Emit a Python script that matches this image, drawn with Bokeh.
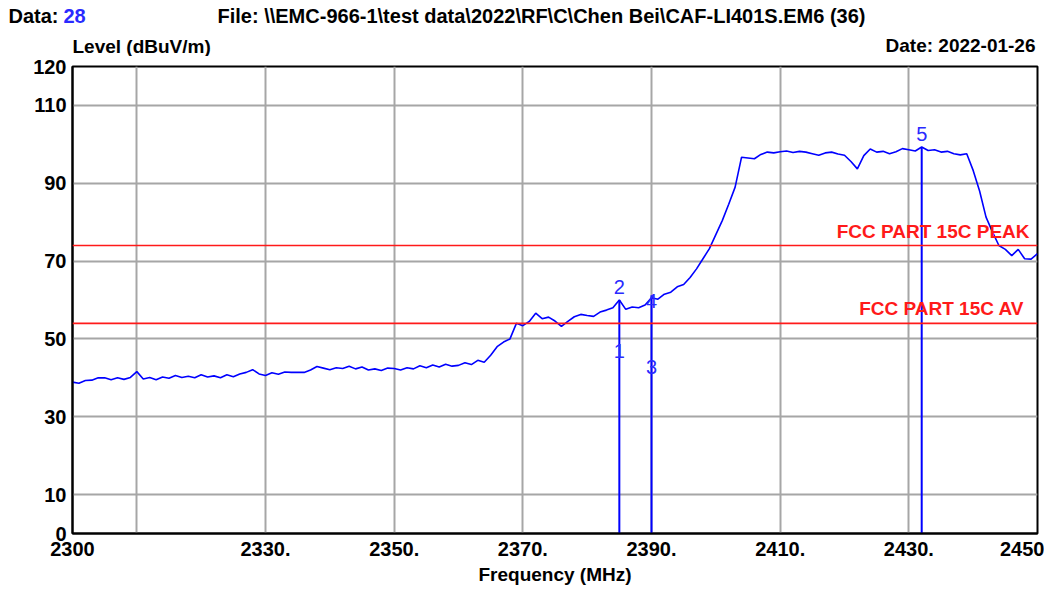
from bokeh.plotting import figure
from bokeh.layouts import column, row
from bokeh.models import FixedTicker, Span, Label, ColumnDataSource, Range1d
from bokeh.embed import file_html
from bokeh.resources import INLINE
from bokeh.core.properties import value

# ---------------- data ----------------
freq_mhz = list(range(2300, 2451))
level_dbuv = [
    38.9, 38.6, 39.3, 39.4, 40.0, 40.0, 39.5, 40.0, 39.6, 40.1,   # 2300-2309
    41.6, 39.7, 40.1, 39.5, 40.2, 39.9, 40.6, 40.1, 40.4, 40.0,   # 2310-2319
    40.8, 40.2, 40.5, 40.0, 40.8, 40.3, 41.0, 41.4, 42.1, 41.0,   # 2320-2329
    40.6, 41.3, 40.9, 41.5, 41.4, 41.4, 41.4, 42.0, 42.9, 42.5,   # 2330-2339
    42.1, 42.6, 42.4, 43.0, 42.3, 42.8, 42.0, 42.3, 41.9, 42.5,   # 2340-2349
    42.4, 42.0, 42.6, 42.3, 43.1, 42.6, 43.3, 42.8, 43.5, 43.0,   # 2350-2359
    43.2, 43.9, 43.4, 44.5, 44.0, 45.8, 48.0, 49.2, 50.0, 54.0,   # 2360-2369
    53.4, 54.5, 56.6, 55.2, 55.6, 54.6, 53.2, 54.5, 55.7, 56.3,   # 2370-2379
    56.0, 55.8, 56.9, 57.4, 58.0, 60.0, 57.6, 58.2, 58.0, 58.7,   # 2380-2389
    60.6, 60.2, 61.5, 62.0, 63.4, 64.0, 65.8, 68.0, 70.6, 73.2,   # 2390-2399
    76.8, 80.4, 84.6, 89.0, 96.7, 96.5, 96.3, 97.4, 98.0, 97.8,   # 2400-2409
    98.1, 98.3, 97.9, 98.2, 98.0, 97.6, 97.2, 97.8, 98.0, 97.5,   # 2410-2419
    97.2, 95.6, 93.7, 97.1, 98.8, 98.0, 98.2, 97.6, 98.1, 98.9,   # 2420-2429
    98.6, 98.3, 99.3, 98.4, 98.6, 98.0, 98.2, 97.6, 97.3, 97.6,   # 2430-2439
    93.3, 88.0, 81.3, 77.5, 74.0, 73.0, 71.4, 73.0, 70.6, 70.5,   # 2440-2449
    71.9,                                                         # 2450
]

limit_levels = [74, 54]
limit_names = ["FCC PART 15C PEAK", "FCC PART 15C  AV"]

marker_ids = ["1", "2", "3", "4", "5"]
marker_freq = [2385.0, 2385.0, 2390.0, 2390.0, 2432.0]
marker_label_level = [47.0, 63.3, 42.7, 59.7, 102.7]

marker_line_freq = [2385.0, 2390.0, 2432.0]
marker_line_top = [60.0, 61.2, 99.3]

x_ticks = [2300, 2330, 2350, 2370, 2390, 2410, 2430, 2450]
x_tick_labels = ["2300", "2330.", "2350.", "2370.", "2390.", "2410.", "2430.", "2450"]
x_grid = [2310, 2330, 2350, 2370, 2390, 2410, 2430]
y_ticks = [0, 10, 30, 50, 70, 90, 110, 120]
y_grid = [10, 30, 50, 70, 90, 110]

data_no = "28"
file_text = r"File: \\EMC-966-1\test data\2022\RF\C\Chen Bei\CAF-LI401S.EM6  (36)"
date_text = "Date: 2022-01-26"
y_title = "Level (dBuV/m)"
x_title = "Frequency (MHz)"

# ---------------- style ----------------
FONT = "Liberation Sans"
W = 1044
HEAD_H = 56
MAIN_H = 532
BLUE = "#0000ff"
LBLUE = "#2a2aff"

# ---------- header strip (pixel-like coordinates, y downwards) ----------
head = figure(width=W, height=HEAD_H, x_range=Range1d(0, W), y_range=Range1d(HEAD_H, 0),
              output_backend="svg", toolbar_location=None,
              x_axis_location=None, y_axis_location=None,
              min_border=0, min_border_left=0, min_border_right=0,
              min_border_top=0, min_border_bottom=0)
head.outline_line_color = None
head.grid.visible = False
head.background_fill_color = "white"
head.border_fill_color = "white"

def htext(x, y, text, align="left", color="black", size="20px"):
    head.text(x=[x], y=[y], text=[text], text_align=align, text_baseline="middle",
              text_font=value(FONT), text_font_style="bold", text_font_size=size,
              text_color=color)

htext(8, 15, "Data:")
htext(63, 15, data_no, color=LBLUE)
htext(217, 15, file_text)
htext(72, 46, y_title, size="19px")
htext(1035, 45, date_text, align="right", size="19px")

# ---------- main chart ----------
p = figure(width=W, height=MAIN_H, x_range=(2300, 2450), y_range=(0, 120),
           output_backend="svg", toolbar_location=None,
           min_border_left=72, min_border_right=7, min_border_top=10, min_border_bottom=55)
p.background_fill_color = "white"
p.border_fill_color = "white"
p.outline_line_color = "black"
p.outline_line_width = 2

for ax in (p.xaxis[0], p.yaxis[0]):
    ax.major_tick_line_color = None
    ax.minor_tick_line_color = None
    ax.axis_line_color = "black"
    ax.axis_line_width = 2
    ax.major_label_text_font = FONT
    ax.major_label_text_font_style = "bold"
    ax.major_label_text_font_size = "20px"
    ax.major_label_text_color = "black"

p.xaxis.ticker = FixedTicker(ticks=x_ticks)
p.xaxis.major_label_overrides = {t: s for t, s in zip(x_ticks, x_tick_labels)}
p.xaxis.major_label_standoff = 2
p.xaxis.axis_label = x_title
p.xaxis.axis_label_text_font = FONT
p.xaxis.axis_label_text_font_style = "bold"
p.xaxis.axis_label_text_font_size = "19px"
p.xaxis.axis_label_text_color = "black"
p.xaxis.axis_label_standoff = 5

p.yaxis.ticker = FixedTicker(ticks=y_ticks)
p.yaxis.major_label_standoff = 0

p.xgrid.ticker = FixedTicker(ticks=x_grid)
p.ygrid.ticker = FixedTicker(ticks=y_grid)
for g in (p.xgrid[0], p.ygrid[0]):
    g.grid_line_color = "#a6a6a6"
    g.grid_line_width = 2

# limit lines
for lv, name in zip(limit_levels, limit_names):
    p.add_layout(Span(location=lv, dimension="width", line_color="#ff1a1a", line_width=1.6))
    p.add_layout(Label(x=2450, y=lv, x_offset=-8, y_offset=4, text=name,
                       text_align="right", text_baseline="bottom",
                       text_font=FONT, text_font_style="bold", text_font_size="19px",
                       text_color="#ff1a1a"))

# trace
p.line(freq_mhz, level_dbuv, line_color=BLUE, line_width=1.6)

# marker lines
ms = ColumnDataSource(dict(x=marker_line_freq, top=marker_line_top))
p.segment(x0="x", y0=0, x1="x", y1="top", source=ms, line_color=BLUE, line_width=2)

# marker labels
ml = ColumnDataSource(dict(x=marker_freq, y=marker_label_level, t=marker_ids))
p.text(x="x", y="y", text="t", source=ml, text_align="center", text_baseline="middle",
       text_font=value(FONT), text_font_size="20px", text_color=LBLUE)

layout = column(row(head), p, spacing=0)
open("out.html", "w").write(file_html(layout, INLINE))
